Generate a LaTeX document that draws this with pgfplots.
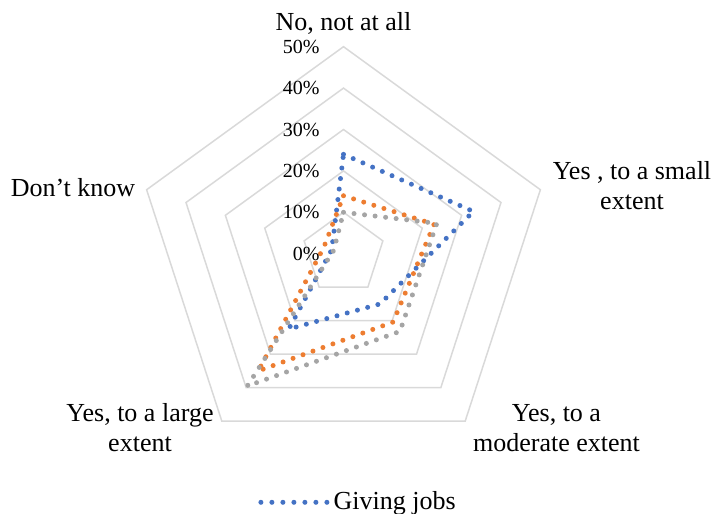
\documentclass[border=0pt]{standalone}
\usepackage{pgfplots}
\pgfplotsset{compat=1.18}
\usepgfplotslibrary{polar}
\usepackage{fontspec}
\setmainfont{Liberation Serif}

\definecolor{ringc}{HTML}{D9D9D9}
\definecolor{sblue}{HTML}{4472C4}
\definecolor{sorange}{HTML}{ED7D31}
\definecolor{sgray}{HTML}{A5A5A5}

\begin{document}
\begin{tikzpicture}
\begin{polaraxis}[
    width=207pt, height=207pt, scale only axis,
    ymin=0, ymax=50,
    hide axis, clip=false,
    ser/.style={line width=2.5pt, line cap=round, dash pattern=on 0pt off 5.3pt},
    legend style={draw=none, fill=none, at={(0.2935,-0.1005)}, anchor=west,
        inner sep=0pt, font=\fontsize{13}{15}\selectfont},
    legend image code/.code={\draw[#1, dash pattern=on 0pt off 5.5pt] (0pt,0pt) -- (33.1pt,0pt);},
]
% rings
\addplot[ringc, line width=0.75pt, forget plot] coordinates {(90,10) (18,10) (-54,10) (-126,10) (162,10)} -- cycle;
\addplot[ringc, line width=0.75pt, forget plot] coordinates {(90,20) (18,20) (-54,20) (-126,20) (162,20)} -- cycle;
\addplot[ringc, line width=0.75pt, forget plot] coordinates {(90,30) (18,30) (-54,30) (-126,30) (162,30)} -- cycle;
\addplot[ringc, line width=0.75pt, forget plot] coordinates {(90,40) (18,40) (-54,40) (-126,40) (162,40)} -- cycle;
\addplot[ringc, line width=0.75pt, forget plot] coordinates {(90,50) (18,50) (-54,50) (-126,50) (162,50)} -- cycle;

% series: No not at all, small, moderate, large, don't know
\addplot[ser, sblue] coordinates {(90,24) (18,33) (-54,15) (-126,22.5) (162,3)} -- cycle;
\addlegendentry{Giving jobs}
\addplot[ser, sorange, forget plot] coordinates {(90,14) (18,23) (-54,20.4) (-126,35) (162,5)} -- cycle;
\addplot[ser, sgray, forget plot] coordinates {(90,10) (18,23.7) (-54,23.2) (-126,39.5) (162,2.5)} -- cycle;

\coordinate (c) at (axis cs:0,0);

% radial tick labels
\foreach \v in {0,10,20,30,40,50} {
    \edef\tmp{\noexpand\node[anchor=east, inner sep=0pt, font=\noexpand\fontsize{10}{12}\noexpand\selectfont]
        at ([xshift=-11.75pt]axis cs:90,\v) {\v\noexpand\%};}
    \tmp
}
\end{polaraxis}

\begin{scope}[every node/.style={anchor=base, inner sep=0pt, font=\fontsize{13}{15}\selectfont}]
\node at ([shift={(0pt,111.35pt)}]c) {No, not at all};
\node at ([shift={(144.25pt,36.85pt)}]c) {Yes , to a small};
\node at ([shift={(144.25pt,21.85pt)}]c) {extent};
\node at ([shift={(106.5pt,-84pt)}]c) {Yes, to a};
\node at ([shift={(106.5pt,-99pt)}]c) {moderate extent};
\node at ([shift={(-101.75pt,-84pt)}]c) {Yes, to a large};
\node at ([shift={(-101.75pt,-99pt)}]c) {extent};
\node at ([shift={(-135.25pt,28.35pt)}]c) {Don’t know};
\end{scope}

\pgfresetboundingbox
\path ([shift={(-171.75pt,-129.65pt)}]c) rectangle ([shift={(186.25pt,126.85pt)}]c);
\end{tikzpicture}
\end{document}
